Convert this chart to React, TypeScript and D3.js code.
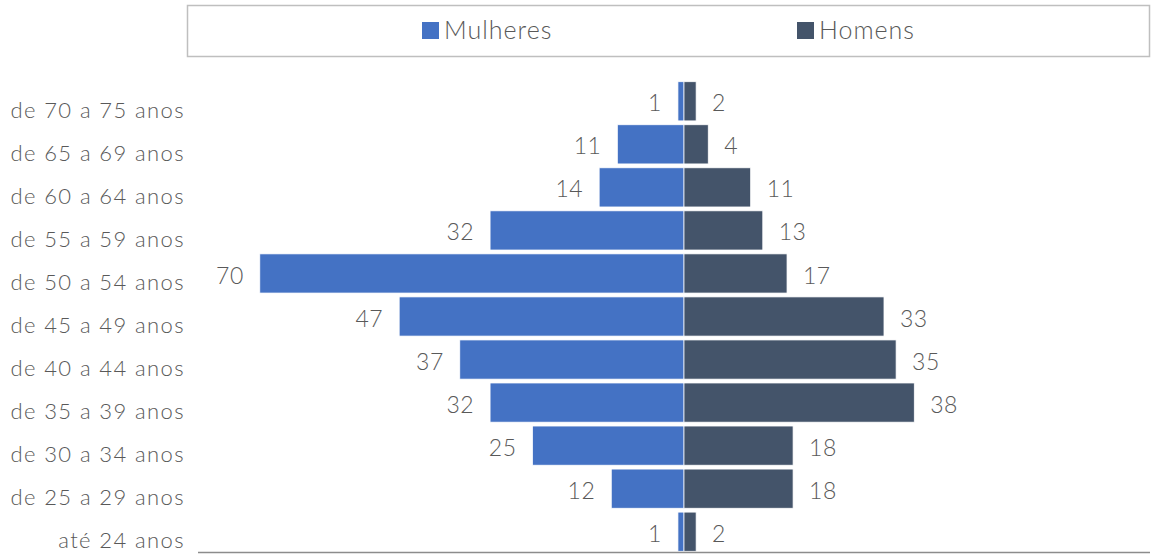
import React from 'react';
import * as d3 from 'd3';

const categories = [
  'de 70 a 75 anos',
  'de 65 a 69 anos',
  'de 60 a 64 anos',
  'de 55 a 59 anos',
  'de 50 a 54 anos',
  'de 45 a 49 anos',
  'de 40 a 44 anos',
  'de 35 a 39 anos',
  'de 30 a 34 anos',
  'de 25 a 29 anos',
  'até 24 anos'
];
const mulheres = [1, 11, 14, 32, 70, 47, 37, 32, 25, 12, 1];
const homens = [2, 4, 11, 13, 17, 33, 35, 38, 18, 18, 2];

const W = 1160;
const H = 554;
const FONT = "'Lato', 'DejaVu Sans', sans-serif";
const TEXT = '#595959';
const BLUE = '#4472C4';
const SLATE = '#44546A';

export default function App() {
  const x = d3.scaleLinear().domain([-80, 80]).range([684 - 80 * 6.06, 684 + 80 * 6.06]);
  const y = d3.scaleBand<string>().domain(categories).range([80, 553]).paddingInner(0.09).paddingOuter(0.04);
  const bw = y.bandwidth();

  return (
    <svg width={W} height={H} style={{ position: 'absolute', left: 0, top: 0, background: '#fff' }} fontFamily={FONT} fontWeight={300}>
      {/* legend */}
      <rect x={187.5} y={5.5} width={962} height={51} fill="#fff" stroke="#bfbfbf" strokeWidth={1.5} />
      <rect x={422} y={22} width={17} height={17} fill={BLUE} />
      <text x={444} y={39} fontSize={25} letterSpacing={1} fill={TEXT}>Mulheres</text>
      <rect x={797} y={22} width={17} height={17} fill={SLATE} />
      <text x={819} y={39} fontSize={25} letterSpacing={1} fill={TEXT}>Homens</text>

      {categories.map((c, i) => {
        const yy = y(c)!;
        const cy = yy + bw / 2;
        return (
          <g key={c}>
            <text x={185} y={cy + 9} dy="0.35em" textAnchor="end" fontSize={22} letterSpacing={1.4} fill={TEXT}>{c}</text>
            <rect x={x(-mulheres[i])} y={yy} width={x(0) - x(-mulheres[i])} height={bw} fill={BLUE} stroke="#fff" strokeWidth={0.75} />
            <rect x={x(0)} y={yy} width={x(homens[i]) - x(0)} height={bw} fill={SLATE} stroke="#fff" strokeWidth={0.75} />
            <text x={x(-mulheres[i]) - 16} y={cy + 2} dy="0.35em" textAnchor="end" fontSize={23} letterSpacing={0.5} fill={TEXT}>{mulheres[i]}</text>
            <text x={x(homens[i]) + 16} y={cy + 2} dy="0.35em" textAnchor="start" fontSize={23} letterSpacing={0.5} fill={TEXT}>{homens[i]}</text>
          </g>
        );
      })}
      <line x1={198} x2={1150} y1={552.5} y2={552.5} stroke="#8c8c8c" strokeWidth={1.5} />
    </svg>
  );
}
